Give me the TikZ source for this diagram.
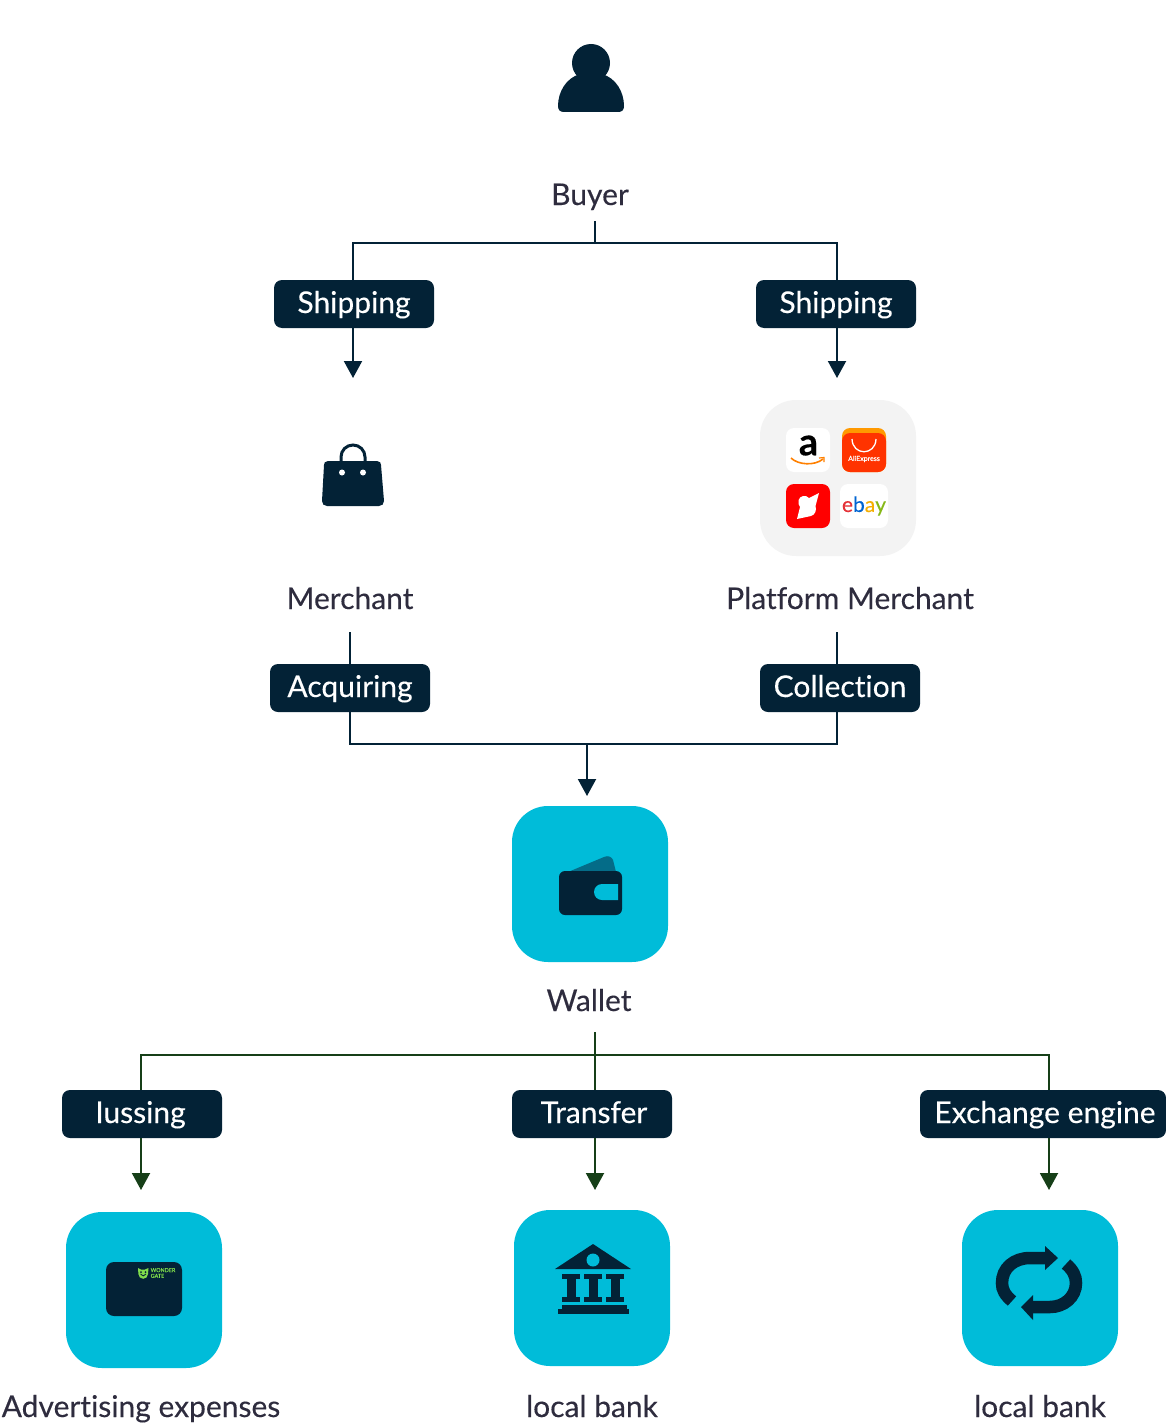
\documentclass[tikz,border=0pt]{standalone}
\usepackage{fontspec}
\setmainfont{Lato}[Ligatures=CommonOff,FakeBold=0.25]
\usetikzlibrary{arrows.meta}

\definecolor{navy}{HTML}{032236}
\definecolor{cyantile}{HTML}{00BCD9}
\definecolor{flapteal}{HTML}{046C88}
\definecolor{inktext}{HTML}{2E2C3E}
\definecolor{treegreen}{HTML}{163F18}
\definecolor{greytile}{HTML}{F3F3F3}
\definecolor{aliorange}{HTML}{FF9900}
\definecolor{alired}{HTML}{FF3300}
\definecolor{wggreen}{HTML}{7FDC4C}

\tikzset{
  tagbox/.style={fill=navy,text=white,rounded corners=8pt,minimum width=160pt,
    minimum height=48pt,inner sep=0pt,font=\fontsize{30}{34}\selectfont,
    text height=22pt,text depth=4pt},
  itemlabel/.style={text=inktext,inner sep=0pt,font=\fontsize{30}{34}\selectfont,
    text height=23pt,text depth=3pt},
  tile/.style={fill=cyantile,rounded corners=36pt,minimum size=156pt,inner sep=0pt},
  navyflow/.style={draw=navy,line width=2pt},
  greenflow/.style={draw=treegreen,line width=2pt},
  flowtip/.style={-{Triangle[length=17pt,width=18pt]}},
  appicon/.style={rounded corners=8pt,minimum size=44pt,inner sep=0pt}
}

\begin{document}
\begin{tikzpicture}[x=1pt,y=-1pt]
  \useasboundingbox (0,0) rectangle (1166,1426);

  %% top part
  \node[itemlabel] (buyer) at (590,195) {Buyer};
  \node[tagbox] (shipleft) at (354,304) {Shipping};
  \node[tagbox] (shipright) at (836,304) {Shipping};
  \node[itemlabel] (merchant) at (350,599) {Merchant};
  \node[itemlabel] (platform) at (850,599) {Platform Merchant};
  \node[tagbox] (acquiring) at (350,688) {Acquiring};
  \node[tagbox] (collection) at (840,688) {Collection};

  \coordinate (buyerstem) at (595,221);
  \coordinate (buyerjoin) at (595,243);
  \coordinate (tipleft) at (353,378);
  \coordinate (tipright) at (837,378);
  \coordinate (merchantstem) at (350,632);
  \coordinate (platformstem) at (837,632);
  \coordinate (walletjoin) at (587,744);
  \coordinate (wallettip) at (587,796);

  \draw[navyflow] (buyerstem) -- (buyerjoin);
  \draw[navyflow] (tipleft |- shipleft.north) |- (buyerjoin) -| (tipright |- shipright.north);
  \draw[navyflow,flowtip] (tipleft |- shipleft.south) -- (tipleft);
  \draw[navyflow,flowtip] (tipright |- shipright.south) -- (tipright);
  \draw[navyflow] (merchantstem) -- (acquiring.north);
  \draw[navyflow] (platformstem) -- (platformstem |- collection.north);
  \draw[navyflow] (acquiring.south) |- (walletjoin) -| (platformstem |- collection.south);
  \draw[navyflow,flowtip] (walletjoin) -- (wallettip);

  %% buyer icon
  \fill[navy] (591,63) circle (19pt);
  \fill[navy] (564,112) .. controls (560,112) and (558,110) .. (558,106)
    .. controls (558,92) and (566,78) .. (580,74) -- (602,74)
    .. controls (616,78) and (624,92) .. (624,106)
    .. controls (624,110) and (622,112) .. (618,112) -- cycle;

  %% bag icon
  \draw[navy,line width=3pt] (341,462) -- (341,457) arc[start angle=180,end angle=0,radius=12pt] -- (365,462);
  \fill[navy] (328,461) -- (377,461) .. controls (380,461) and (381,463) .. (381,465)
    -- (384,501) .. controls (384,504) and (382,506) .. (379,506) -- (327,506)
    .. controls (324,506) and (322,504) .. (322,501) -- (324,465)
    .. controls (324,463) and (325,461) .. (328,461) -- cycle;
  \fill[white] (342,472.5) circle (3pt) (363,472.5) circle (3pt);

  %% platform apps
  \node[fill=greytile,rounded corners=36pt,minimum size=156pt,inner sep=0pt] (appgroup) at (838,478) {};
  \node[fill=white,appicon] (amazon) at (808,450) {};
  \node[inner sep=0pt,font=\fontsize{38}{38}\selectfont\bfseries,text=black] (amazonletter) at (808.5,445.5) {a};
  \draw[orange,line width=1.6pt] (791,458) .. controls (798,465) and (815,466) .. (823,459);
  \draw[orange,line width=1.2pt] (819,458) -- (824,457.5) -- (824,462);
  \node[fill=aliorange,appicon] (aliback) at (864,450) {};
  \fill[alired,rounded corners=8pt] (842,433) rectangle (886,472);
  \draw[white,line width=1.3pt] (852,439) .. controls (852.5,456) and (875.5,456) .. (876,439);
  \node[inner sep=0pt,text=white,font=\fontsize{7}{8}\selectfont] (alitext) at (864,459) {AliExpress};
  \node[fill=red,appicon] (redapp) at (808,506) {};
  \fill[white] (819,493) -- (815.5,506) .. controls (817,510) and (815,515) .. (811,516)
    -- (797,519) -- (800,507) .. controls (797,503) and (798,497) .. (803,496)
    .. controls (805,495.5) and (807,496) .. (809,498) -- cycle;
  \node[fill=white,appicon,minimum width=48pt] (ebayapp) at (864,506) {};
  \node[inner sep=0pt,font=\fontsize{21}{21}\selectfont] (ebaytext) at (864,506)
    {\textcolor[HTML]{E53238}{e}\textcolor[HTML]{0064D2}{b}\textcolor[HTML]{F5AF02}{a}\textcolor[HTML]{86B817}{y}};

  %% wallet
  \node[tile] (wallet) at (590,884) {};
  \node[itemlabel] (walletlabel) at (589,1001) {Wallet};
  \fill[flapteal] (568,872) -- (604,857) .. controls (608,855) and (612,857) .. (613,860) -- (616,872) -- cycle;
  \fill[navy,rounded corners=6pt] (559,871) rectangle (622,915);
  \fill[cyantile] (618,884) -- (602,884) arc[start angle=90,end angle=270,radius=8pt] -- (618,900) -- cycle;

  %% lower part
  \node[tagbox] (iussing) at (142,1114) {Iussing\hspace*{3pt}};
  \node[tagbox] (transfer) at (592,1114) {\hspace*{4pt}Transfer};
  \node[tagbox,minimum width=246pt] (exchange) at (1043,1114) {\hspace*{4pt}Exchange engine};
  \coordinate (walletstem) at (595,1032);
  \coordinate (treejoin) at (595,1055);
  \coordinate (tipone) at (141,1190);
  \coordinate (tiptwo) at (595,1190);
  \coordinate (tipthree) at (1049,1190);

  \draw[greenflow] (walletstem) -- (tiptwo |- transfer.north);
  \draw[greenflow] (tipone |- iussing.north) |- (treejoin) -| (tipthree |- exchange.north);
  \draw[greenflow,flowtip] (tipone |- iussing.south) -- (tipone);
  \draw[greenflow,flowtip] (tiptwo |- transfer.south) -- (tiptwo);
  \draw[greenflow,flowtip] (tipthree |- exchange.south) -- (tipthree);

  \node[tile] (adtile) at (144,1290) {};
  \node[tile] (banktile) at (592,1288) {};
  \node[tile] (swaptile) at (1040,1288) {};
  \node[itemlabel] (adlabel) at (141,1407) {Advertising expenses};
  \node[itemlabel] (banklabel) at (592,1407) {local bank};
  \node[itemlabel] (swaplabel) at (1040,1407) {local bank};

  %% card
  \fill[navy,rounded corners=8pt] (106,1262) rectangle (182,1316);
  \fill[wggreen] (138,1268) -- (141,1269.5) -- (145,1269.5) -- (148.5,1268) -- (148,1274)
    arc[start angle=0,end angle=-180,radius=4.8pt] -- cycle;
  \fill[navy] (141,1272) circle (1pt) (145.5,1272) circle (1pt);
  \draw[navy,line width=0.8pt] (140.5,1274) .. controls (141.5,1276.5) and (145,1276.5) .. (146,1274);
  \node[inner sep=0pt,anchor=west,align=left,text=wggreen,
    font=\fontsize{5.4}{5.8}\selectfont] (cardtext) at (150.5,1273) {WONDER\\GATE};

  %% bank
  \fill[navy] (555,1269) -- (593,1244) -- (631,1269) -- cycle;
  \fill[cyantile] (593,1260) circle (6.5pt);
  \foreach \colx in {571,593,615}{
    \fill[navy] (\colx-9,1274) rectangle (\colx+9,1279);
    \fill[navy] (\colx-4.5,1279) rectangle (\colx+4.5,1297);
    \fill[navy] (\colx-9,1297) rectangle (\colx+9,1302);
  }
  \fill[navy] (562,1305) rectangle (627,1309);
  \fill[navy] (558,1309) rectangle (629,1314);

  %% swap arrows
  \draw[navy,line width=12.5pt] (1012,1301) .. controls (1005,1295) and (1002,1290) .. (1002,1283)
    .. controls (1002,1268) and (1014,1258) .. (1030,1258) -- (1046,1258);
  \fill[navy] (1045,1246) -- (1058,1258) -- (1045,1270) -- cycle;
  \draw[navy,line width=12.5pt] (1066,1264) .. controls (1073,1270) and (1076,1276) .. (1076,1283)
    .. controls (1076,1297) and (1064,1307) .. (1050,1307) -- (1032,1307);
  \fill[navy] (1033,1295) -- (1021,1307) -- (1033,1320) -- cycle;
\end{tikzpicture}
\end{document}
